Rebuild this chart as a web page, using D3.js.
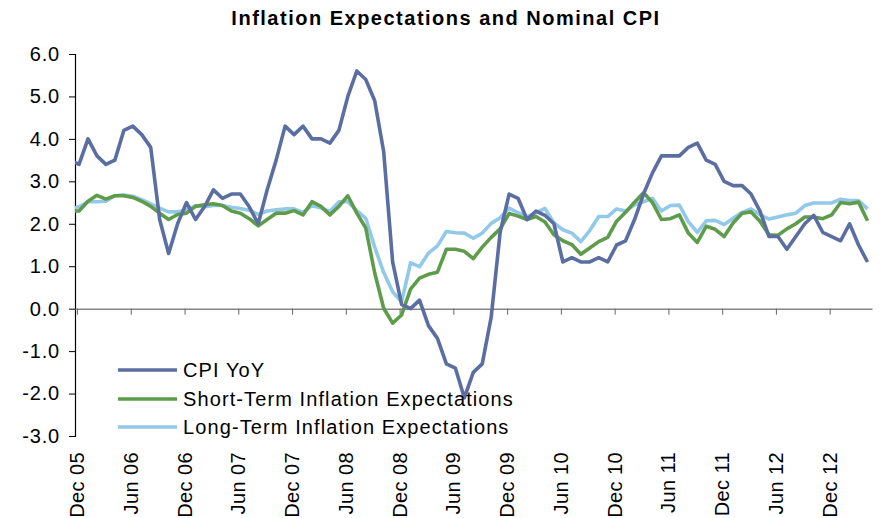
<!DOCTYPE html>
<html>
<head>
<meta charset="utf-8">
<script src="https://cdn.jsdelivr.net/npm/d3@7"></script>
<style>
  body { margin: 0; background: #fff; }
  svg { font-family: "Liberation Sans", Arial, sans-serif; }
</style>
</head>
<body>
<svg width="884" height="518"></svg>
<script>
// month index 0 = Dec 05, -1 = Nov 05 (clipped by the axis)
let months = d3.range(-1, 89);

let tickMonths = d3.range(0, 85, 6);
let tickLabels = ["Dec 05", "Jun 06", "Dec 06", "Jun 07", "Dec 07", "Jun 08", "Dec 08",
                  "Jun 09", "Dec 09", "Jun 10", "Dec 10", "Jun 11", "Dec 11", "Jun 12", "Dec 12"];

let yTicks = [6, 5, 4, 3, 2, 1, 0, -1, -2, -3];

let cpi = [3.5, 3.4,
    4.0, 3.6, 3.4, 3.5, 4.2, 4.3, 4.1, 3.8, 2.1, 1.3, 2.0, 2.5,
    2.1, 2.4, 2.8, 2.6, 2.7, 2.7, 2.4, 2.0, 2.8, 3.5, 4.3, 4.1,
    4.3, 4.0, 4.0, 3.9, 4.2, 5.0, 5.6, 5.4, 4.9, 3.7, 1.1, 0.1,
    0.0, 0.2, -0.4, -0.7, -1.3, -1.4, -2.1, -1.5, -1.3, -0.2, 1.8, 2.7,
    2.6, 2.1, 2.3, 2.2, 2.0, 1.1, 1.2, 1.1, 1.1, 1.2, 1.1, 1.5,
    1.6, 2.1, 2.7, 3.2, 3.6, 3.6, 3.6, 3.8, 3.9, 3.5, 3.4, 3.0,
    2.9, 2.9, 2.7, 2.3, 1.7, 1.7, 1.4, 1.7, 2.0, 2.2, 1.8, 1.7,
    1.6, 2.0, 1.5, 1.1];

let shortTerm = [2.3, 2.3,
    2.53, 2.67, 2.58, 2.66, 2.66, 2.62, 2.53, 2.41, 2.25, 2.1, 2.22, 2.25,
    2.41, 2.45, 2.47, 2.43, 2.3, 2.25, 2.12, 1.95, 2.1, 2.25, 2.25, 2.31,
    2.21, 2.52, 2.41, 2.21, 2.41, 2.66, 2.25, 1.9, 0.84, 0.01, -0.34, -0.15,
    0.46, 0.72, 0.81, 0.86, 1.4, 1.4, 1.35, 1.18, 1.45, 1.68, 1.88, 2.24,
    2.18, 2.1, 2.17, 2.04, 1.74, 1.6, 1.51, 1.28, 1.43, 1.58, 1.68, 2.06,
    2.27, 2.51, 2.73, 2.5, 2.1, 2.12, 2.21, 1.78, 1.56, 1.94, 1.87, 1.7,
    2.02, 2.25, 2.28, 2.06, 1.74, 1.73, 1.88, 2.0, 2.16, 2.16, 2.12, 2.21,
    2.5, 2.47, 2.51, 2.07];

let longTerm = [2.35, 2.4,
    2.52, 2.52, 2.53, 2.66, 2.68, 2.65, 2.57, 2.47, 2.37, 2.28, 2.28, 2.32,
    2.43, 2.4, 2.43, 2.43, 2.39, 2.36, 2.32, 2.22, 2.3, 2.33, 2.35, 2.35,
    2.27, 2.43, 2.37, 2.29, 2.52, 2.52, 2.31, 2.13, 1.45, 0.85, 0.4, 0.16,
    1.08, 0.99, 1.31, 1.48, 1.82, 1.79, 1.78, 1.66, 1.78, 2.01, 2.14, 2.37,
    2.26, 2.16, 2.26, 2.36, 2.02, 1.86, 1.78, 1.58, 1.84, 2.17, 2.17, 2.35,
    2.3, 2.45, 2.52, 2.6, 2.3, 2.43, 2.44, 2.05, 1.8, 2.07, 2.08, 1.98,
    2.13, 2.27, 2.35, 2.21, 2.11, 2.16, 2.21, 2.25, 2.43, 2.49, 2.49, 2.49,
    2.58, 2.55, 2.55, 2.35];

let seriesNames = ["CPI YoY", "Short-Term Inflation Expectations", "Long-Term Inflation Expectations"];
let seriesColors = ["#5b6ea2", "#5e9c4c", "#92c9e9"];
let seriesValues = [cpi, shortTerm, longTerm];

let width = 884;
let height = 518;
let plotLeft = 75, plotRight = 872, plotTop = 54, plotBottom = 436;

let xScale = d3.scaleLinear()
                .domain([-0.45, 88.5])
                .range([plotLeft, plotRight]);
let yScale = d3.scaleLinear()
                .domain([-3, 6])
                .range([plotBottom, plotTop]);

let svg = d3.select("svg")
    .attr("width", width)
    .attr("height", height);

svg.append("text")
    .attr("x", 446)
    .attr("y", 25)
    .style("text-anchor", "middle")
    .style("font-weight", "bold")
    .style("font-size", "20px")
    .style("letter-spacing", "1.5px")
    .text("Inflation Expectations and Nominal CPI");

// y axis
let yAxis = d3.axisLeft(yScale)
                .tickValues(yTicks)
                .tickFormat(d => d.toFixed(1))
                .tickSize(6)
                .tickSizeOuter(6);
let yG = svg.append("g")
    .attr("transform", "translate(" + plotLeft + ", 0)")
    .call(yAxis);
yG.select(".domain").attr("stroke", "#000").attr("stroke-width", 1.2);
yG.selectAll(".tick line").attr("stroke", "#000");
yG.selectAll(".tick text")
    .attr("x", -15)
    .style("font-size", "20px")
    .style("letter-spacing", "0.8px")
    .style("font-family", "Liberation Sans, Arial, sans-serif")
    .attr("fill", "#000");

// x axis along zero
let xAxis = d3.axisBottom(xScale)
                .tickValues(tickMonths)
                .tickFormat("")
                .tickSize(6)
                .tickSizeOuter(0);
let xG = svg.append("g")
    .attr("transform", "translate(0, " + yScale(0) + ")")
    .call(xAxis);
xG.select(".domain").attr("stroke", "#858585").attr("stroke-width", 1.5);
xG.selectAll(".tick line").attr("stroke", "#666").attr("transform", "translate(-2, 0)");

// x labels at the bottom
svg.append("g")
    .selectAll("text")
    .data(tickMonths)
    .enter()
    .append("text")
    .attr("transform", d => "translate(" + (xScale(d) - 2) + ", 452) rotate(-90)")
    .attr("dy", "0.35em")
    .style("text-anchor", "end")
    .style("font-size", "20px")
    .style("letter-spacing", "0.4px")
    .text((d, i) => tickLabels[i]);

// lines
svg.append("clipPath")
    .attr("id", "plot")
    .append("rect")
    .attr("x", plotLeft)
    .attr("y", 0)
    .attr("width", plotRight - plotLeft)
    .attr("height", height);

let line = d3.line()
    .x((d, i) => xScale(months[i]))
    .y(d => yScale(d));

svg.append("g")
    .attr("clip-path", "url(#plot)")
    .selectAll("path")
    .data([2, 1, 0])
    .enter()
    .append("path")
    .attr("d", k => line(seriesValues[k]))
    .attr("fill", "none")
    .attr("stroke", k => seriesColors[k])
    .attr("stroke-width", 3.6)
    .attr("stroke-linejoin", "round");

// legend
let legend = svg.append("g")
    .selectAll("g")
    .data(seriesNames)
    .enter()
    .append("g")
    .attr("transform", (d, i) => "translate(118, " + [370, 399, 427][i] + ")");
legend.append("line")
    .attr("x1", 0)
    .attr("x2", 59)
    .attr("stroke", (d, i) => seriesColors[i])
    .attr("stroke-width", 3.6);
legend.append("text")
    .attr("x", 65)
    .attr("dy", "0.35em")
    .style("font-size", "20px")
    .style("letter-spacing", "1.1px")
    .text(d => d);
</script>
</body>
</html>
